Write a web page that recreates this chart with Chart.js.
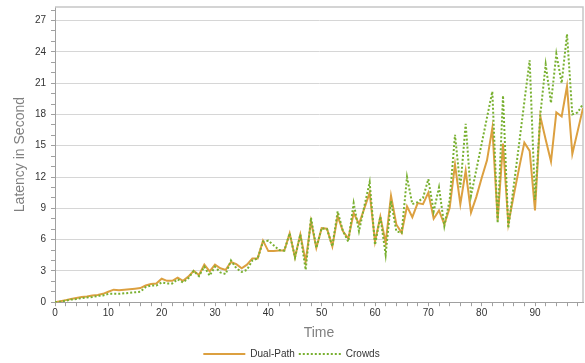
<!DOCTYPE html>
<html>
<head>
<meta charset="utf-8">
<script src="https://cdn.jsdelivr.net/npm/chart.js@4.4.1/dist/chart.umd.min.js"></script>
<style>
  body { margin: 0; background: #fff; }
  #wrap { width: 585px; height: 363px; }
</style>
</head>
<body>
<div id="wrap"><canvas id="latencyChart" width="585" height="363"></canvas></div>
<script>
// time steps 0..99
const times = [
  0, 1, 2, 3, 4, 5, 6, 7, 8, 9, 10, 11, 12, 13, 14, 15, 16, 17, 18, 19,
  20, 21, 22, 23, 24, 25, 26, 27, 28, 29, 30, 31, 32, 33, 34, 35, 36, 37, 38, 39,
  40, 41, 42, 43, 44, 45, 46, 47, 48, 49, 50, 51, 52, 53, 54, 55, 56, 57, 58, 59,
  60, 61, 62, 63, 64, 65, 66, 67, 68, 69, 70, 71, 72, 73, 74, 75, 76, 77, 78, 79,
  80, 81, 82, 83, 84, 85, 86, 87, 88, 89, 90, 91, 92, 93, 94, 95, 96, 97, 98, 99
];

const dualPath = [
  0, 0.1, 0.2, 0.3, 0.4, 0.5, 0.55, 0.65, 0.7, 0.8,
  1.0, 1.2, 1.15, 1.2, 1.25, 1.3, 1.35, 1.6, 1.75, 1.8,
  2.25, 2.05, 2.05, 2.35, 2.05, 2.45, 3.0, 2.6, 3.6, 2.95,
  3.6, 3.25, 3.1, 3.85, 3.65, 3.25, 3.6, 4.2, 4.2, 5.9,
  4.9, 4.9, 4.95, 4.95, 6.6, 4.3, 6.5, 3.9, 7.75, 5.2,
  7.1, 7.05, 5.35, 8.25, 6.8, 6.1, 8.55, 7.5, 9.0, 10.5,
  5.8, 8.2, 5.7, 10.2, 7.45, 6.65, 9.2, 8.15, 9.5, 9.4,
  10.5, 8.0, 8.8, 7.45, 9.05, 13.2, 9.4, 12.6, 8.6, 10.1,
  11.9, 13.6, 16.7, 7.9, 15.2, 7.5, 10.2, 12.8, 15.3, 14.5,
  8.8, 17.8, 15.6, 13.5, 18.2, 17.8, 20.7, 14.2, 16.4, 18.6
];

const crowds = [
  0, 0.05, 0.15, 0.25, 0.3, 0.4, 0.45, 0.5, 0.6, 0.65,
  0.8, 0.8, 0.8, 0.85, 0.9, 0.95, 1.0, 1.45, 1.6, 1.6,
  1.9, 1.8, 1.8, 2.2, 1.9, 2.3, 3.0, 2.5, 3.4, 2.55,
  3.4, 2.85, 2.7, 4.0, 3.25, 2.9, 3.1, 4.0, 4.2, 5.8,
  5.9, 5.45, 5.0, 4.95, 6.6, 4.3, 6.5, 3.1, 8.1, 5.2,
  7.1, 7.0, 5.35, 8.7, 6.8, 5.8, 9.5, 6.8, 9.2, 11.5,
  5.5, 8.2, 4.55, 9.7, 6.8, 6.65, 12.0, 9.4, 9.6, 10.0,
  11.8, 8.7, 11.0, 7.3, 9.8, 16.05, 11.0, 17.1, 10.2, 12.7,
  15.2, 17.7, 20.2, 7.6, 19.8, 7.1, 11.1, 15.1, 19.2, 23.2,
  9.8, 18.0, 22.8, 19.1, 23.8, 21.0, 25.7, 18.0, 18.2, 19.0
];

// labelled ticks; minor ticks sit between them
const yLabels = [0, 3, 6, 9, 12, 15, 18, 21, 24, 27];
const xLabels = [0, 10, 20, 30, 40, 50, 60, 70, 80, 90];

const tickFont = { family: 'Liberation Sans', size: 10 };
const titleFont = { family: 'Liberation Sans', size: 14 };

// grey frame on the top and right of the plot area
const plotFrame = {
  id: 'plotFrame',
  beforeDatasetsDraw(chart) {
    const { ctx, chartArea: a } = chart;
    ctx.save();
    ctx.strokeStyle = '#c6c6c6';
    ctx.lineWidth = 1.5;
    ctx.beginPath();
    ctx.moveTo(a.left, a.top);
    ctx.lineTo(a.right, a.top);
    ctx.lineTo(a.right, a.bottom);
    ctx.stroke();
    ctx.restore();
  }
};

// legend samples use the dataset's own line width and dash
const lineLegendLabels = (chart) =>
  Chart.defaults.plugins.legend.labels.generateLabels(chart).map(item => {
    const ds = chart.data.datasets[item.datasetIndex];
    item.lineDash = ds.borderDash || [];
    item.lineWidth = ds.borderWidth;
    item.strokeStyle = ds.borderColor;
    return item;
  });

const ctx = document.getElementById('latencyChart').getContext('2d');
const latencyChart = new Chart(ctx, {
  type: 'line',
  data: {
    labels: times,
    datasets: [
      {
        label: 'Dual-Path',
        data: dualPath,
        borderColor: '#dca040',
        borderWidth: 2,
        pointRadius: 0,
        tension: 0,
        fill: false,
        order: 1
      },
      {
        label: 'Crowds',
        data: crowds,
        borderColor: '#78b030',
        borderWidth: 2,
        borderDash: [2, 2],
        pointRadius: 0,
        tension: 0,
        fill: false,
        order: 0
      }
    ]
  },
  options: {
    responsive: false,
    animation: false,
    layout: { padding: { top: 7, right: 2, left: 0, bottom: -6 } },
    plugins: {
      legend: {
        position: 'bottom',
        labels: {
          usePointStyle: true,
          pointStyle: 'line',
          pointStyleWidth: 42,
          padding: 4,
          color: '#333',
          font: { family: 'Liberation Sans', size: 10 },
          generateLabels: lineLegendLabels,
          sort: (a, b) => a.datasetIndex - b.datasetIndex
        }
      },
      tooltip: { enabled: false }
    },
    scales: {
      x: {
        type: 'linear',
        min: 0,
        max: 99,
        afterBuildTicks: (scale) => {
          const ticks = [];
          for (let v = 0; v <= 98; v += 2) ticks.push({ value: v });
          scale.ticks = ticks;
        },
        ticks: {
          autoSkip: false,
          maxRotation: 0,
          padding: 1.5,
          color: '#333',
          font: tickFont,
          callback: (value) => xLabels.includes(value) ? value : ''
        },
        grid: {
          drawOnChartArea: false,
          drawTicks: true,
          tickLength: 4,
          tickColor: '#a0a0a0'
        },
        border: { color: '#a0a0a0', width: 1 },
        title: {
          display: true,
          text: 'Time',
          color: '#808080',
          font: titleFont,
          padding: { top: 3.5, bottom: 3.5 }
        }
      },
      y: {
        min: 0,
        max: 28.3,
        afterBuildTicks: (scale) => {
          const ticks = [];
          for (let v = 0; v <= 28; v += 1) ticks.push({ value: v });
          scale.ticks = ticks;
        },
        afterFit: (scale) => {
          scale.width = 55;
          scale.paddingTop = 0;
          scale.paddingBottom = 0;
        },
        ticks: {
          autoSkip: false,
          padding: 5,
          color: '#333',
          font: tickFont,
          callback: (value) => yLabels.includes(value) ? value : ''
        },
        grid: {
          color: (c) => (c.tick && c.tick.value > 0 && c.tick.value % 3 === 0) ? '#d6d6d6' : 'rgba(0,0,0,0)',
          tickColor: '#a0a0a0',
          tickLength: 4
        },
        border: { color: '#a0a0a0', width: 1 },
        title: {
          display: true,
          text: 'Latency in Second',
          color: '#808080',
          font: titleFont,
          padding: { top: 12, bottom: 0 }
        }
      }
    }
  },
  plugins: [plotFrame]
});
</script>
</body>
</html>
